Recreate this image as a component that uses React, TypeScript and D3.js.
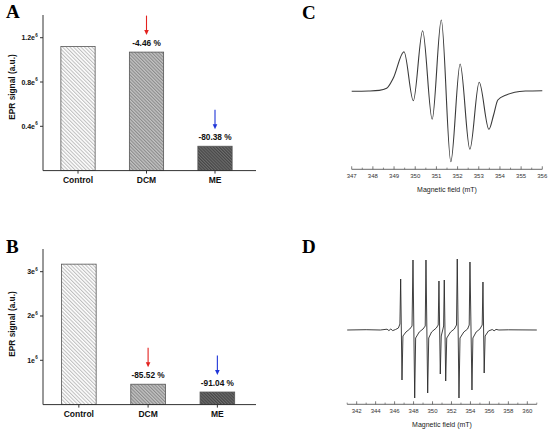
import React from 'react';
import * as d3 from 'd3';

// ---------- data ----------
const categories = ['Control', 'DCM', 'ME'];
const valuesA = [1.12, 1.07, 0.22]; // x10^6
const valuesB = [3.17, 0.46, 0.284]; // x10^6
const pctA = ['', '-4.46 %', '-80.38 %'];
const pctB = ['', '-85.52 %', '-91.04 %'];
const ticksA = [0.4, 0.8, 1.2];
const tickLabelsA = ['0.4e', '0.8e', '1.2e'];
const ticksB = [1, 2, 3];
const tickLabelsB = ['1e', '2e', '3e'];
const arrowColors = ['', '#e3221f', '#1f35d8'];

// Spectrum C (mT, signal a.u.)
const cField = [347.0, 347.8, 348.3, 348.65, 348.96, 349.47, 349.91, 350.35, 350.8, 351.23, 351.68, 352.12, 352.58, 353.02, 353.48, 353.7, 353.9, 354.3, 354.7, 355.2, 356.0];
const cSignal = [-0.3, 0, 0.6, 2.7, 12.7, 39.3, -9.7, 60.3, -28.3, 71, -70.7, 27, -58.3, 8.7, -38.3, -24, -9, -4, -1.2, 0, 0.3];

// Spectrum D (mT, signal a.u.)
const dField = [
  341.0, 343.0, 344.5, 345.2, 345.4, 345.6, 345.8, 346.1, 346.4,
  346.56, 346.64, 346.78, 346.88, 347.2, 347.6,
  347.84, 347.94, 348.12, 348.22, 348.6, 349.0,
  349.23, 349.31, 349.49, 349.6, 349.9, 350.4,
  350.6, 350.68, 350.82, 350.92, 351.1,
  351.17, 351.24, 351.39, 351.5, 351.9, 352.3,
  352.53, 352.61, 352.79, 352.9, 353.3, 353.7,
  353.87, 353.95, 354.16, 354.26, 354.6, 355.0,
  355.24, 355.32, 355.45, 355.55, 355.9, 356.3, 356.5, 356.7, 357.0, 358.0, 361.0,
];
const dSignal = [
  0, 0.3, 0, 0.8, -0.6, 1, -0.6, 0.5, 2,
  6, 51, -50, -6, -2, 1,
  4, 70, -68, -8, -2, 1,
  4, 70, -63, -8, -2, 2,
  5, 49, -44, -6, 1,
  4, 50, -51, -8, -2, 1,
  5, 71, -68, -8, -2, 1,
  5, 68, -60, -8, -2, 1,
  5, 48, -43, -6, -1, 0.5, -0.8, 0.6, 0, 0.2, 0,
];

const cTicks = d3.range(347, 356.01, 1);
const cMinor = d3.range(347.5, 356, 1);
const dTicks = d3.range(342, 360.01, 2);
const dMinor = d3.range(341, 361.01, 2);

const SANS = "'Liberation Sans', Arial, sans-serif";
const SERIF = "'Liberation Serif', 'Times New Roman', serif";

type BarProps = {
  id: string;
  values: number[];
  pct: string[];
  ticks: number[];
  tickLabels: string[];
  yMax: number;
  top: number;
  bottom: number;
  xRange: [number, number];
  letter: string;
  letterY: number;
  titleY: number;
};

const fills = ['url(#hatch0)', 'url(#hatch1)', 'url(#hatch2)'];

function BarPanel(p: BarProps) {
  const x0 = 43;
  const xEnd = 256;
  const x = d3.scaleBand<string>().domain(categories).range(p.xRange).paddingInner(0.5).paddingOuter(0.25);
  const y = d3.scaleLinear().domain([0, p.yMax]).range([p.bottom, p.top]);
  return (
    <g>
      <text x={6} y={p.letterY} fontFamily={SERIF} fontWeight="bold" fontSize={19} fill="#000">{p.letter}</text>
      {categories.map((c, i) => (
        <rect key={c} x={x(c)} y={y(p.values[i])} width={x.bandwidth()} height={y(0) - y(p.values[i])}
          fill={fills[i]} stroke="#555" strokeWidth={0.8} />
      ))}
      <line x1={x0} x2={x0} y1={p.top} y2={p.bottom} stroke="#333" strokeWidth={1} />
      <line x1={x0} x2={xEnd} y1={p.bottom} y2={p.bottom} stroke="#333" strokeWidth={1} />
      {p.ticks.map((t, i) => (
        <g key={t}>
          <line x1={x0 - 3} x2={x0} y1={y(t)} y2={y(t)} stroke="#333" strokeWidth={1} />
          <text x={35} y={y(t) + 2.5} textAnchor="end" fontFamily={SANS} fontWeight="bold" fontSize={7} fill="#111">
            {p.tickLabels[i]}
          </text>
          <text x={35.3} y={y(t) - 1} fontFamily={SANS} fontWeight="bold" fontSize={4.5} fill="#111">6</text>
        </g>
      ))}
      {categories.map((c) => (
        <g key={c}>
          <line x1={x(c)! + x.bandwidth() / 2} x2={x(c)! + x.bandwidth() / 2} y1={p.bottom} y2={p.bottom + 3} stroke="#333" strokeWidth={1} />
          <text x={x(c)! + x.bandwidth() / 2} y={p.bottom + 12.5} textAnchor="middle" fontFamily={SANS} fontWeight="bold" fontSize={8.5} fill="#111">{c}</text>
        </g>
      ))}
      <text transform={`translate(14.7,${p.titleY}) rotate(-90)`} textAnchor="middle" fontFamily={SANS} fontWeight="bold" fontSize={8.3} fill="#111">
        EPR signal (a.u.)
      </text>
      {categories.map((c, i) => {
        if (!p.pct[i]) return null;
        const cx = x(c)! + x.bandwidth() / 2;
        const t = y(p.values[i]);
        const tip = t - 17;
        return (
          <g key={'p' + c}>
            <text x={cx} y={t - 6.5} textAnchor="middle" fontFamily={SANS} fontWeight="bold" fontSize={8.3} fill="#111">{p.pct[i]}</text>
            <line x1={cx} x2={cx} y1={t - 36.5} y2={tip - 4} stroke={arrowColors[i]} strokeWidth={1.1} />
            <path d={`M${cx - 2.3},${tip - 5}L${cx + 2.3},${tip - 5}L${cx},${tip}Z`} fill={arrowColors[i]} />
          </g>
        );
      })}
    </g>
  );
}

type SpecProps = {
  field: number[];
  signal: number[];
  domain: [number, number];
  xRange: [number, number];
  baseline: number;
  axisY: number;
  ticks: number[];
  minor: number[];
  curve: d3.CurveFactory;
  letter: string;
  letterY: number;
  stroke: number;
  color: string;
};

function SpecPanel(p: SpecProps) {
  const x = d3.scaleLinear().domain(p.domain).range(p.xRange);
  const y = d3.scaleLinear().domain([-80, 80]).range([p.baseline + 80, p.baseline - 80]);
  const line = d3.line<number>().x((_, i) => x(p.field[i])).y((d) => y(d)).curve(p.curve);
  const cx = (p.xRange[0] + p.xRange[1]) / 2;
  return (
    <g>
      <text x={302} y={p.letterY} fontFamily={SERIF} fontWeight="bold" fontSize={19} fill="#000">{p.letter}</text>
      <path d={line(p.signal) || ''} fill="none" stroke={p.color} strokeWidth={p.stroke} strokeLinejoin="round" />
      <line x1={p.xRange[0]} x2={p.xRange[1]} y1={p.axisY} y2={p.axisY} stroke="#444" strokeWidth={0.8} />
      {p.ticks.map((t) => (
        <g key={t}>
          <line x1={x(t)} x2={x(t)} y1={p.axisY} y2={p.axisY - 3} stroke="#444" strokeWidth={0.7} />
          <text x={x(t)} y={p.axisY + 8.7} textAnchor="middle" fontFamily={SANS} fontSize={6} fill="#333">{t}</text>
        </g>
      ))}
      {p.minor.map((t) => (
        <line key={'m' + t} x1={x(t)} x2={x(t)} y1={p.axisY} y2={p.axisY - 1.7} stroke="#444" strokeWidth={0.6} />
      ))}
      <text x={cx} y={p.axisY + 23} textAnchor="middle" fontFamily={SANS} fontSize={7} fill="#222">Magnetic field (mT)</text>
    </g>
  );
}

export default function App() {
  return (
    <svg width={550} height={433} viewBox="0 0 550 433" style={{ position: 'absolute', left: 0, top: 0, background: '#fff' }}>
      <defs>
        <pattern id="hatch0" patternUnits="userSpaceOnUse" width={2.6} height={2.6} patternTransform="rotate(-45)">
          <rect width={2.6} height={2.6} fill="#fff" />
          <line x1={0.6} x2={0.6} y1={0} y2={2.6} stroke="#a8a8a8" strokeWidth={0.8} />
        </pattern>
        <pattern id="hatch1" patternUnits="userSpaceOnUse" width={2.4} height={2.4} patternTransform="rotate(-45)">
          <rect width={2.4} height={2.4} fill="#c4c4c4" />
          <line x1={0.6} x2={0.6} y1={0} y2={2.4} stroke="#7e7e7e" strokeWidth={0.9} />
        </pattern>
        <pattern id="hatch2" patternUnits="userSpaceOnUse" width={2.2} height={2.2} patternTransform="rotate(-45)">
          <rect width={2.2} height={2.2} fill="#6e6e6e" />
          <line x1={0.6} x2={0.6} y1={0} y2={2.2} stroke="#3c3c3c" strokeWidth={0.9} />
        </pattern>
      </defs>
      <rect width={550} height={433} fill="#fff" />
      <BarPanel id="A" values={valuesA} pct={pctA} ticks={ticksA} tickLabels={tickLabelsA}
        yMax={1.405} top={15} bottom={170.6} xRange={[43.75, 249.25]} letter="A" letterY={18.3} titleY={87} />
      <BarPanel id="B" values={valuesB} pct={pctB} ticks={ticksB} tickLabels={tickLabelsB}
        yMax={3.512} top={249} bottom={404.6} xRange={[44.2, 252]} letter="B" letterY={252.5} titleY={324} />
      <SpecPanel field={cField} signal={cSignal} domain={[347, 356]} xRange={[351.7, 542.3]} baseline={91}
        axisY={169.3} ticks={cTicks} minor={cMinor} curve={d3.curveMonotoneX} letter="C" letterY={19} stroke={1.1} color="#3a3a3a" />
      <SpecPanel field={dField} signal={dSignal} domain={[341, 361]} xRange={[347.2, 536.8]} baseline={330}
        axisY={404.3} ticks={dTicks} minor={dMinor} curve={d3.curveLinear} letter="D" letterY={252.5} stroke={0.9} color="#2a2a2a" />
    </svg>
  );
}
